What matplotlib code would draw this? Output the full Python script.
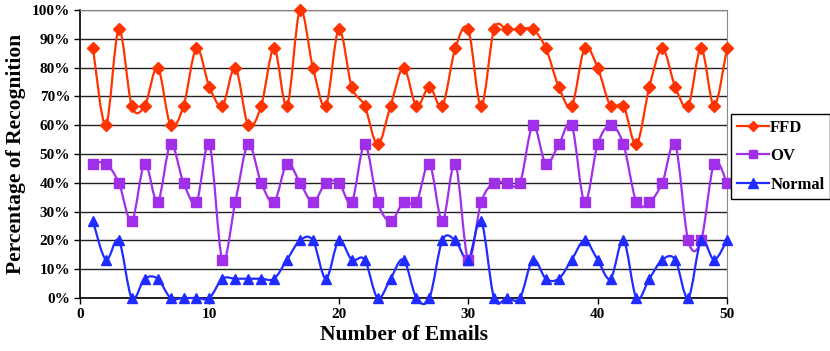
import numpy as np
import matplotlib
matplotlib.use("Agg")
import matplotlib.pyplot as plt
from matplotlib.path import Path
from matplotlib.patches import PathPatch
from matplotlib.lines import Line2D
from matplotlib.ticker import FuncFormatter

plt.rcParams["font.family"] = ["Liberation Serif", "DejaVu Serif"]
plt.rcParams["font.weight"] = "bold"

emails = list(range(1, 51))

ffd = [86.7, 60.0, 93.3, 66.7, 66.7, 80.0, 60.0, 66.7, 86.7, 73.3,
       66.7, 80.0, 60.0, 66.7, 86.7, 66.7, 100.0, 80.0, 66.7, 93.3,
       73.3, 66.7, 53.3, 66.7, 80.0, 66.7, 73.3, 66.7, 86.7, 93.3,
       66.7, 93.3, 93.3, 93.3, 93.3, 86.7, 73.3, 66.7, 86.7, 80.0,
       66.7, 66.7, 53.3, 73.3, 86.7, 73.3, 66.7, 86.7, 66.7, 86.7]

ov = [46.7, 46.7, 40.0, 26.7, 46.7, 33.3, 53.3, 40.0, 33.3, 53.3,
      13.3, 33.3, 53.3, 40.0, 33.3, 46.7, 40.0, 33.3, 40.0, 40.0,
      33.3, 53.3, 33.3, 26.7, 33.3, 33.3, 46.7, 26.7, 46.7, 13.3,
      33.3, 40.0, 40.0, 40.0, 60.0, 46.7, 53.3, 60.0, 33.3, 53.3,
      60.0, 53.3, 33.3, 33.3, 40.0, 53.3, 20.0, 20.0, 46.7, 40.0]

normal = [26.7, 13.3, 20.0, 0.0, 6.7, 6.7, 0.0, 0.0, 0.0, 0.0,
          6.7, 6.7, 6.7, 6.7, 6.7, 13.3, 20.0, 20.0, 6.7, 20.0,
          13.3, 13.3, 0.0, 6.7, 13.3, 0.0, 0.0, 20.0, 20.0, 13.3,
          26.7, 0.0, 0.0, 0.0, 13.3, 6.7, 6.7, 13.3, 20.0, 13.3,
          6.7, 20.0, 0.0, 6.7, 13.3, 13.3, 0.0, 20.0, 13.3, 20.0]

series = [
    ("FFD", ffd, "#FF3300", "D", 6),
    ("OV", ov, "#A030E8", "s", 7),
    ("Normal", normal, "#1F2BFF", "^", 7.5),
]


def smooth_path(x, y):
    """Smoothed line through the points, Catmull-Rom style Bezier segments."""
    x = np.asarray(x, float)
    y = np.asarray(y, float)
    n = len(x)
    verts = [(x[0], y[0])]
    codes = [Path.MOVETO]
    for i in range(n - 1):
        p0 = max(i - 1, 0)
        p3 = min(i + 2, n - 1)
        c1 = (x[i] + (x[i + 1] - x[p0]) / 6, y[i] + (y[i + 1] - y[p0]) / 6)
        c2 = (x[i + 1] - (x[p3] - x[i]) / 6, y[i + 1] - (y[p3] - y[i]) / 6)
        verts += [c1, c2, (x[i + 1], y[i + 1])]
        codes += [Path.CURVE4] * 3
    return Path(verts, codes)


fig = plt.figure(figsize=(8.3, 3.51), dpi=100)
ax = fig.add_axes([0.0964, 0.151, 0.7795, 0.8205])

ax.set_xlim(0, 50)
ax.set_ylim(0, 100)
ax.set_xticks(range(0, 51, 10))
ax.set_yticks(range(0, 101, 10))
ax.yaxis.set_major_formatter(FuncFormatter(lambda v, _: f"{int(v)}%"))
ax.grid(axis="y", color="#222222", linewidth=1.0)
ax.set_axisbelow(True)

for side in ("top", "right"):
    ax.spines[side].set_color("#888888")
for side in ("left", "bottom"):
    ax.spines[side].set_color("black")
    ax.spines[side].set_linewidth(1.2)

ax.tick_params(axis="both", direction="out", length=4, width=1,
               labelsize=11, pad=3)

handles = []
for name, vals, color, marker, ms in series:
    patch = PathPatch(smooth_path(emails, vals), facecolor="none",
                      edgecolor=color, linewidth=1.6, clip_on=False, zorder=3)
    ax.add_patch(patch)
    ax.plot(emails, vals, linestyle="none", marker=marker, markersize=ms,
            color=color, clip_on=False, zorder=4)
    handles.append(Line2D([], [], color=color, linewidth=1.6, marker=marker,
                          markersize=ms - 1, label=name))

ax.set_xlabel("Number of Emails", fontsize=15.5, fontweight="bold", labelpad=3)
ax.set_ylabel("Percentage of Recognition", fontsize=15.5, fontweight="bold",
              labelpad=4)

fig.legend(handles=handles, loc="upper left",
           bbox_to_anchor=(731 / 830, 1 - 114 / 351), fontsize=12,
           frameon=True, fancybox=False, edgecolor="black", framealpha=1,
           handlelength=1.9, handletextpad=0.1, borderpad=0.35,
           labelspacing=0.75, borderaxespad=0)

fig.savefig("out.png", dpi=100)
